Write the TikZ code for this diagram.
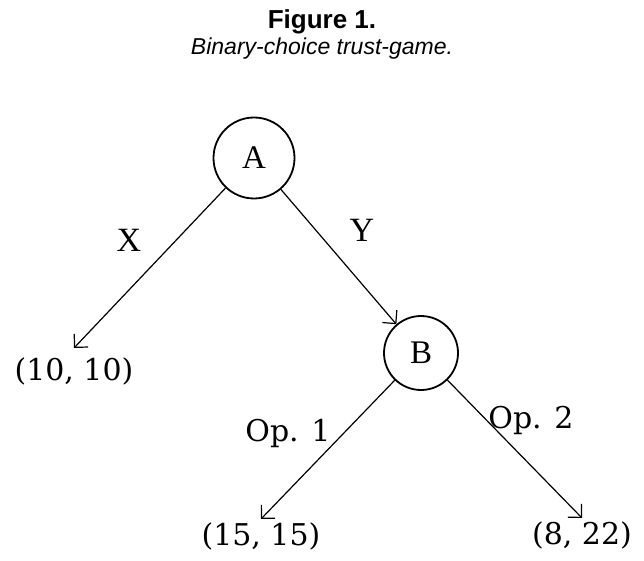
\documentclass[tikz,border=0pt]{standalone}
\usepackage{fontspec}
\setmainfont{Liberation Serif}
\newfontfamily\capfont{Liberation Sans}
\newfontfamily\payfont{DejaVu Serif}
\usetikzlibrary{arrows.meta,positioning}

\begin{document}
\begin{tikzpicture}[x=1pt,y=-1pt,
  player/.style={draw,circle,line width=1.8pt,inner sep=0pt,font=\fontsize{33}{36}\selectfont},
  payoff/.style={anchor=north,inner sep=4pt,font=\payfont\fontsize{30}{34}\selectfont},
  movelabel/.style={font=\fontsize{34}{38}\selectfont},
  oplabel/.style={font=\payfont\fontsize{30}{34}\selectfont},
  move/.style={line width=1.2pt,-{Straight Barb[angle=90:13.5pt]}}
]
  \useasboundingbox (0,0) rectangle (644,561);
  % caption
  \node[font=\capfont\bfseries\fontsize{26}{30}\selectfont] (figno) at (322,22) {Figure 1.};
  \node[font=\capfont\itshape\fontsize{23}{28}\selectfont] (figname) at (322,49) {Binary-choice trust-game.};
  % game tree
  \node[player,minimum size=81pt] (A) at (254,158) {A};
  \node[player,minimum size=74pt] (B) at (421,353) {B};
  \node[payoff,inner ysep=10pt] (tenten) at (74,348) {(10,~10)};
  \node[payoff] (fifteen) at (261,519) {(15,~15)};
  \node[payoff] (eighttwo) at (582,518) {(8,~22)};
  \draw[move] (A) -- (tenten.north);
  \draw[move] (A) -- (B);
  \draw[move] (B) -- (fifteen.north);
  \draw[move] (B) -- (eighttwo.north);
  \node[movelabel] (labX) at (129,240) {X};
  \node[movelabel] (labY) at (362,230) {Y};
  \node[oplabel] (labop1) at (288,433) {Op. 1};
  \node[oplabel] (labop2) at (531,420) {Op. 2};
\end{tikzpicture}
\end{document}
